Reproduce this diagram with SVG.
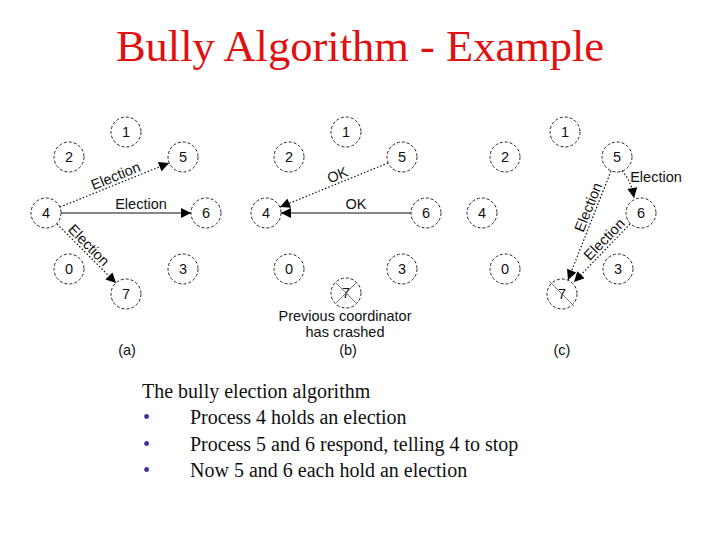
<svg xmlns="http://www.w3.org/2000/svg" width="720" height="540" viewBox="0 0 720 540">
<style>
.nd circle{fill:none;stroke:#222;stroke-width:1;stroke-dasharray:3 2}
.nd text,.lbl{font-family:"Liberation Sans",Arial,sans-serif;font-size:14.5px;fill:#111}
.nd text{text-anchor:middle}
.lbl{text-anchor:middle}
.solid{stroke:#111;stroke-width:1.2;fill:none}
.dot{stroke:#111;stroke-width:1.2;fill:none;stroke-dasharray:1.5 2}
.cross{stroke:#555;stroke-width:0.8}
.title{font-family:"Liberation Serif","Times New Roman",serif;font-size:44.5px;fill:#e01010;text-anchor:middle}
.body{font-family:"Liberation Serif","Times New Roman",serif;font-size:20px;fill:#111}
.bul{font-family:"Liberation Serif","Times New Roman",serif;font-size:20px;fill:#333399}
</style>
<defs>
<marker id="ah" viewBox="0 0 10 10" refX="10" refY="5" markerWidth="12" markerHeight="10" markerUnits="userSpaceOnUse" orient="auto">
<path d="M0,0 L10,5 L0,10 z" fill="#000"/>
</marker>
</defs>
<rect width="720" height="540" fill="#fff"/>
<text class="title" x="360" y="61">Bully Algorithm - Example</text>

<!-- panel a nodes -->
<g id="a1" class="nd"><circle cx="126" cy="132" r="15"/><text x="126" y="137">1</text></g>
<g id="a2" class="nd"><circle cx="69" cy="157" r="15"/><text x="69" y="162">2</text></g>
<g id="a5" class="nd"><circle cx="183" cy="157" r="15"/><text x="183" y="162">5</text></g>
<g id="a4" class="nd"><circle cx="46" cy="213" r="15"/><text x="46" y="218">4</text></g>
<g id="a6" class="nd"><circle cx="206" cy="213" r="15"/><text x="206" y="218">6</text></g>
<g id="a0" class="nd"><circle cx="69" cy="269" r="15"/><text x="69" y="274">0</text></g>
<g id="a3" class="nd"><circle cx="183" cy="269" r="15"/><text x="183" y="274">3</text></g>
<g id="a7" class="nd"><circle cx="126" cy="294" r="15"/><text x="126" y="299">7</text></g>

<!-- panel b nodes -->
<g id="b1" class="nd"><circle cx="346" cy="132" r="15"/><text x="346" y="137">1</text></g>
<g id="b2" class="nd"><circle cx="289" cy="157" r="15"/><text x="289" y="162">2</text></g>
<g id="b5" class="nd"><circle cx="402" cy="157" r="15"/><text x="402" y="162">5</text></g>
<g id="b4" class="nd"><circle cx="266" cy="213" r="15"/><text x="266" y="218">4</text></g>
<g id="b6" class="nd"><circle cx="426" cy="213" r="15"/><text x="426" y="218">6</text></g>
<g id="b0" class="nd"><circle cx="289" cy="269" r="15"/><text x="289" y="274">0</text></g>
<g id="b3" class="nd"><circle cx="402" cy="269" r="15"/><text x="402" y="274">3</text></g>
<g id="b7" class="nd"><circle cx="346" cy="293" r="15"/><text x="346" y="298">7</text>
<line class="cross" x1="336" y1="283" x2="356" y2="303"/><line class="cross" x1="356" y1="283" x2="336" y2="303"/></g>

<!-- panel c nodes -->
<g id="c1" class="nd"><circle cx="565" cy="132" r="15"/><text x="565" y="137">1</text></g>
<g id="c2" class="nd"><circle cx="505" cy="157" r="15"/><text x="505" y="162">2</text></g>
<g id="c5" class="nd"><circle cx="617" cy="157" r="15"/><text x="617" y="162">5</text></g>
<g id="c4" class="nd"><circle cx="482" cy="213" r="15"/><text x="482" y="218">4</text></g>
<g id="c6" class="nd"><circle cx="641" cy="213" r="15"/><text x="641" y="218">6</text></g>
<g id="c0" class="nd"><circle cx="505" cy="269" r="15"/><text x="505" y="274">0</text></g>
<g id="c3" class="nd"><circle cx="618" cy="269" r="15"/><text x="618" y="274">3</text></g>
<g id="c7" class="nd"><circle cx="562" cy="294" r="15"/><text x="562" y="299">7</text>
<line class="cross" x1="549" y1="281" x2="574" y2="306"/></g>

<!-- connectors -->
<g id="connectors">
<line class="dot" x1="60" y1="207" x2="169" y2="163" marker-end="url(#ah)"/>
<line class="solid" x1="61" y1="213" x2="191" y2="213" marker-end="url(#ah)"/>
<line class="dot" x1="57" y1="224" x2="116" y2="283" marker-end="url(#ah)"/>
<line class="dot" x1="388" y1="163" x2="280" y2="207" marker-end="url(#ah)"/>
<line class="solid" x1="411" y1="213" x2="281" y2="213" marker-end="url(#ah)"/>
<path class="dot" d="M622,171 Q631,180 634,198" marker-end="url(#ah)"/>
<line class="dot" x1="611" y1="171" x2="568" y2="280" marker-end="url(#ah)"/>
<line class="dot" x1="630" y1="224" x2="574" y2="282" marker-end="url(#ah)"/>
</g>

<!-- connector labels -->
<text class="lbl" transform="translate(118.6,183.3) rotate(-22.2)" x="0" y="-3">Election</text>
<text class="lbl" x="141" y="209">Election</text>
<text class="lbl" transform="translate(83.2,250.8) rotate(45.4)" x="0" y="-3">Election</text>
<text class="lbl" transform="translate(340.5,182.3) rotate(-22.4)" x="0" y="-3">OK</text>
<text class="lbl" x="356" y="209">OK</text>
<text class="lbl" x="656" y="182">Election</text>
<text class="lbl" transform="translate(595.7,210.2) rotate(-68.1)" x="0" y="-3">Election</text>
<text class="lbl" transform="translate(610,244.9) rotate(-45.7)" x="0" y="-3">Election</text>

<text class="lbl" x="345" y="321">Previous coordinator</text>
<text class="lbl" x="345" y="337">has crashed</text>
<text class="lbl" x="127" y="355">(a)</text>
<text class="lbl" x="348" y="355">(b)</text>
<text class="lbl" x="562" y="355">(c)</text>

<text class="body" x="142" y="398">The bully election algorithm</text>
<text class="bul" x="143" y="424">•</text><text class="body" x="190" y="424">Process 4 holds an election</text>
<text class="bul" x="143" y="451">•</text><text class="body" x="190" y="451">Process 5 and 6 respond, telling 4 to stop</text>
<text class="bul" x="143" y="477">•</text><text class="body" x="190" y="477">Now 5 and 6 each hold an election</text>
</svg>
